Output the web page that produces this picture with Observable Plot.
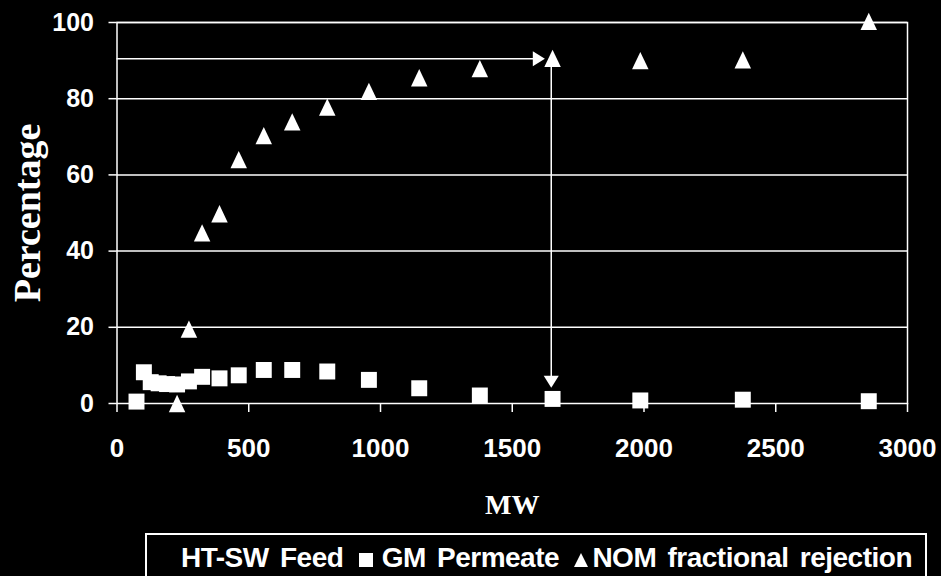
<!DOCTYPE html>
<html>
<head>
<meta charset="utf-8">
<script src="https://cdn.jsdelivr.net/npm/d3@7"></script>
<script src="https://cdn.jsdelivr.net/npm/@observablehq/plot@0.6"></script>
<style>
  html, body { margin: 0; padding: 0; background: #000; }
  body { width: 941px; height: 576px; overflow: hidden; position: relative; }
  #chart { position: absolute; left: 0; top: 0; }
  svg g[aria-label="y-axis label"] text,
  svg g[aria-label="x-axis label"] text {
    font-family: "Liberation Serif", "DejaVu Serif", serif;
    font-weight: bold;
  }
  svg g[aria-label="y-axis label"] text { font-size: 38px; }
  svg g[aria-label="x-axis label"] text { font-size: 28px; }
  #legend {
    position: absolute; left: 145px; top: 533px; width: 782px; height: 70px;
    border: 2px solid #fff; box-sizing: border-box; color: #fff;
    font-family: "Liberation Sans", Arial, sans-serif; font-weight: bold; font-size: 28px;
    white-space: nowrap; padding-left: 34px; padding-top: 7px; letter-spacing: -0.5px; word-spacing: 4px;
  }
  .sq { display: inline-block; width: 14px; height: 14px; background: #fff; margin: 0 9px 0 4px; }
  .tr { display: inline-block; width: 0; height: 0; border-left: 7px solid transparent;
        border-right: 7px solid transparent; border-bottom: 14px solid #fff; margin: 0 4px 0 4px; }
</style>
</head>
<body>
<div id="chart"></div>
<div id="legend">HT-SW Feed <span class="sq"></span>GM Permeate <span class="tr"></span>NOM fractional rejection</div>
<script>
// ---- data ----
const xTicks = [0, 500, 1000, 1500, 2000, 2500, 3000];
const yTicks = [0, 20, 40, 60, 80, 100];

// GM Permeate (squares)
const gmMW = [74, 102, 128, 158, 190, 228, 273, 323, 389, 462, 557, 665, 798, 956, 1147, 1377, 1653, 1986, 2375, 2853];
const gmPct = [0.5, 8.2, 5.6, 5.3, 5.1, 5.0, 5.8, 7.0, 6.6, 7.4, 8.8, 8.8, 8.4, 6.2, 4.0, 2.1, 1.2, 0.8, 1.0, 0.6];

// NOM fractional rejection (triangles)
const nomMW = [228, 273, 323, 389, 462, 557, 665, 798, 956, 1147, 1377, 1653, 1986, 2375, 2853];
const nomPct = [0, 19.5, 44.8, 49.8, 64.0, 70.3, 73.9, 77.8, 81.9, 85.5, 87.9, 90.6, 90.0, 90.2, 100.3];

// annotation arrows
const arrowLevel = 90.5;     // horizontal arrow level (%)
const arrowHeadMW = 1601;    // where the horizontal arrowhead sits
const arrowMW = 1648;        // vertical arrow position (MW)
const arrowHeadPct = 5.7;    // where the downward arrowhead sits

// ---- build tables ----
const gm = gmMW.map((x, i) => ({x, y: gmPct[i]}));
const nom = nomMW.map((x, i) => ({x, y: nomPct[i]}));
const hArrow = [{x1: 0, x2: arrowHeadMW, y: arrowLevel}];
const vArrow = [{x: arrowMW, y1: arrowLevel, y2: arrowHeadPct}];
const heads = [{x: arrowHeadMW, y: arrowLevel, rot: 90}, {x: arrowMW, y: arrowHeadPct, rot: 180}];

// triangle symbol centered on its bounding box
function triangle(hRatio) {
  return {
    draw(context, size) {
      const w = Math.sqrt(size), h = w * hRatio;
      context.moveTo(0, -h / 2);
      context.lineTo(w / 2, h / 2);
      context.lineTo(-w / 2, h / 2);
      context.closePath();
    }
  };
}

const chart = Plot.plot({
  width: 941,
  height: 576,
  marginLeft: 116.5,
  marginRight: 34,
  marginTop: 22,
  marginBottom: 173,
  style: {background: "#000", color: "#fff", fontFamily: "Liberation Sans, Arial, sans-serif", fontSize: "25px", fontWeight: "bold"},
  x: {domain: [0, 3000]},
  y: {domain: [0, 100]},
  marks: [
    Plot.gridY(yTicks.filter(d => d > 0), {stroke: "#fff", strokeOpacity: 1, strokeWidth: 1.5}),
    Plot.frame({stroke: "#fff", strokeWidth: 1.5}),
    Plot.axisY({ticks: yTicks, tickSize: 8, tickPadding: 15, strokeWidth: 1.5, tickFormat: d3.format("d"), fontSize: 25,
      label: "Percentage", labelAnchor: "center", labelArrow: "none", labelOffset: 104}),
    Plot.axisX({ticks: xTicks, tickSize: 9, tickPadding: 26, strokeWidth: 1.5, tickFormat: d3.format("d"), fontSize: 26,
      label: "MW", labelAnchor: "center", labelArrow: "none", labelOffset: 110}),
    Plot.ruleY(hArrow, {y: "y", x1: "x1", x2: "x2", stroke: "#fff", strokeWidth: 1.5}),
    Plot.ruleX(vArrow, {x: "x", y1: "y1", y2: "y2", stroke: "#fff", strokeWidth: 1.5}),
    Plot.dot(gm, {x: "x", y: "y", symbol: "square", r: 9, fill: "#fff", stroke: "none"}),
    Plot.dot(nom, {x: "x", y: "y", symbol: triangle(1.05), r: 9.3, fill: "#fff", stroke: "none"}),
    Plot.dot(heads, {x: "x", y: "y", rotate: "rot", symbol: triangle(0.8), r: 8.5, fill: "#fff", stroke: "none"})
  ]
});
document.getElementById("chart").appendChild(chart);
</script>
</body>
</html>
